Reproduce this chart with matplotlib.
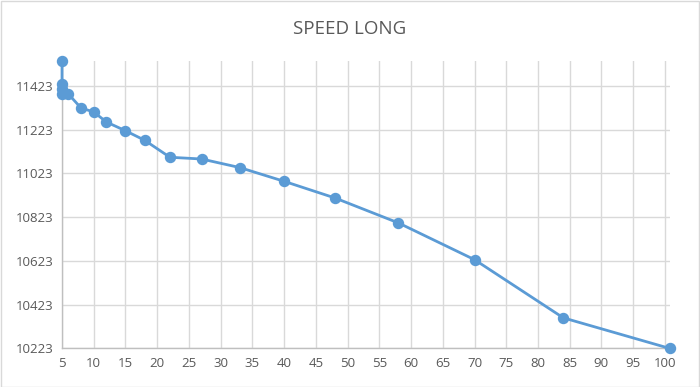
import matplotlib
matplotlib.use('Agg')
import matplotlib.pyplot as plt
from matplotlib.patches import Rectangle

plt.rcParams['font.family'] = ['Open Sans', 'DejaVu Sans']

# data
speed = [5, 5, 5, 5, 6, 8, 10, 12, 15, 18, 22, 27, 33, 40, 48, 58, 70, 84, 100.8]
value = [11538, 11434, 11408, 11388, 11386, 11322, 11304, 11258, 11218, 11175,
         11097, 11089, 11050, 10987, 10911, 10797, 10629, 10363, 10223]
x_ticks = list(range(5, 101, 5))
y_ticks = [10223, 10423, 10623, 10823, 11023, 11223, 11423]

fig = plt.figure(figsize=(7, 3.87), dpi=100)
ax = fig.add_axes([0.0886, 0.0995, 0.8685, 0.7435])

ax.plot(speed, value, color='#5B9BD5', lw=2.0, marker='o', ms=7.2,
        markerfacecolor='#5B9BD5', markeredgecolor='#5B9BD5', zorder=3, clip_on=False)

ax.set_xlim(5, 100.8)
ax.set_ylim(10223, 11538)
ax.set_xticks(x_ticks)
ax.set_yticks(y_ticks)
ax.grid(True, color='#D9D9D9', lw=1)
ax.set_axisbelow(True)
for s in ['top', 'right']:
    ax.spines[s].set_visible(False)
for s in ['left', 'bottom']:
    ax.spines[s].set_color('#BFBFBF')
    ax.spines[s].set_linewidth(1)
ax.tick_params(length=0, labelsize=9.5, colors='#595959', pad=6)

fig.text(0.5, 0.925, 'SPEED LONG', ha='center', va='center', fontsize=13.5, color='#595959')

# outer chart border
fig.patches.append(Rectangle((0.001, 0.001), 0.997, 0.997, transform=fig.transFigure,
                             fill=False, edgecolor='#D9D9D9', lw=1))

fig.savefig('out.png', dpi=100)
